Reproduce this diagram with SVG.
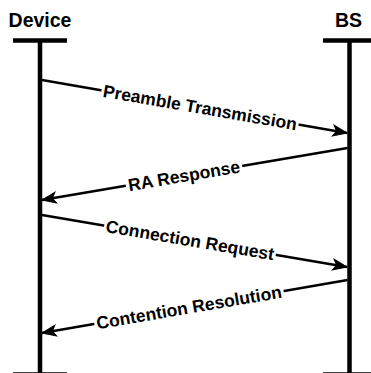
<svg xmlns="http://www.w3.org/2000/svg" width="371" height="373" viewBox="0 0 371 373">
  <style>
    .title { font-family: "Liberation Sans", Arial, sans-serif; font-weight: bold; font-size: 19.5px; fill: #000; text-anchor: middle; }
    .label { font-family: "Liberation Sans", Arial, sans-serif; font-weight: bold; font-size: 17.5px; fill: #000; text-anchor: middle; dominant-baseline: central; }
    .life { stroke: #000; stroke-width: 4.5; fill: none; }
    .msg { stroke: #000; stroke-width: 2.3; fill: none; marker-end: url(#arrow); }
    .bg { fill: #fff; }
  </style>
  <defs>
    <marker id="arrow" markerUnits="userSpaceOnUse" markerWidth="16" markerHeight="14" refX="15" refY="7" orient="auto">
      <path d="M1,1.5 L15,7 L1,12.5 L4.5,7 Z" fill="#000" stroke="#000" stroke-width="1" stroke-linejoin="miter"/>
    </marker>
  </defs>
  <rect width="371" height="373" fill="#fff"/>

  <!-- participant: Device -->
  <g id="device">
    <text class="title" x="40" y="27">Device</text>
    <line class="life" x1="13" y1="40.5" x2="67" y2="40.5"/>
    <line class="life" x1="40" y1="40" x2="40" y2="380"/>
    <line class="life" x1="13" y1="374.5" x2="67" y2="374.5"/>
  </g>

  <!-- participant: BS -->
  <g id="bs">
    <text class="title" x="348.5" y="27">BS</text>
    <line class="life" x1="323" y1="40.5" x2="380" y2="40.5"/>
    <line class="life" x1="349.5" y1="40" x2="349.5" y2="380"/>
    <line class="life" x1="323" y1="374.5" x2="380" y2="374.5"/>
  </g>

  <!-- messages -->
  <g id="connectors">
    <line class="msg" x1="42" y1="80" x2="347" y2="133"/>
    <line class="msg" x1="347.5" y1="148" x2="42" y2="200"/>
    <line class="msg" x1="42" y1="215" x2="347" y2="267"/>
    <line class="msg" x1="347.5" y1="280" x2="42" y2="333"/>
  </g>

  <g id="label-preamble" transform="translate(200 107.6) rotate(9.8)">
    <rect class="bg" x="-100" y="-9" width="200" height="18"/>
    <text class="label" x="0" y="0">Preamble Transmission</text>
  </g>
  <g id="label-ra" transform="translate(184 175.8) rotate(-9.6)">
    <rect class="bg" x="-59" y="-9" width="118" height="18"/>
    <text class="label" x="0" y="0">RA Response</text>
  </g>
  <g id="label-conn" transform="translate(190 240.2) rotate(9.6)">
    <rect class="bg" x="-87" y="-9" width="174" height="18"/>
    <text class="label" x="0" y="0">Connection Request</text>
  </g>
  <g id="label-cont" transform="translate(189 307.5) rotate(-9.75)">
    <rect class="bg" x="-96" y="-9" width="192" height="18"/>
    <text class="label" x="0" y="0">Contention Resolution</text>
  </g>
</svg>
